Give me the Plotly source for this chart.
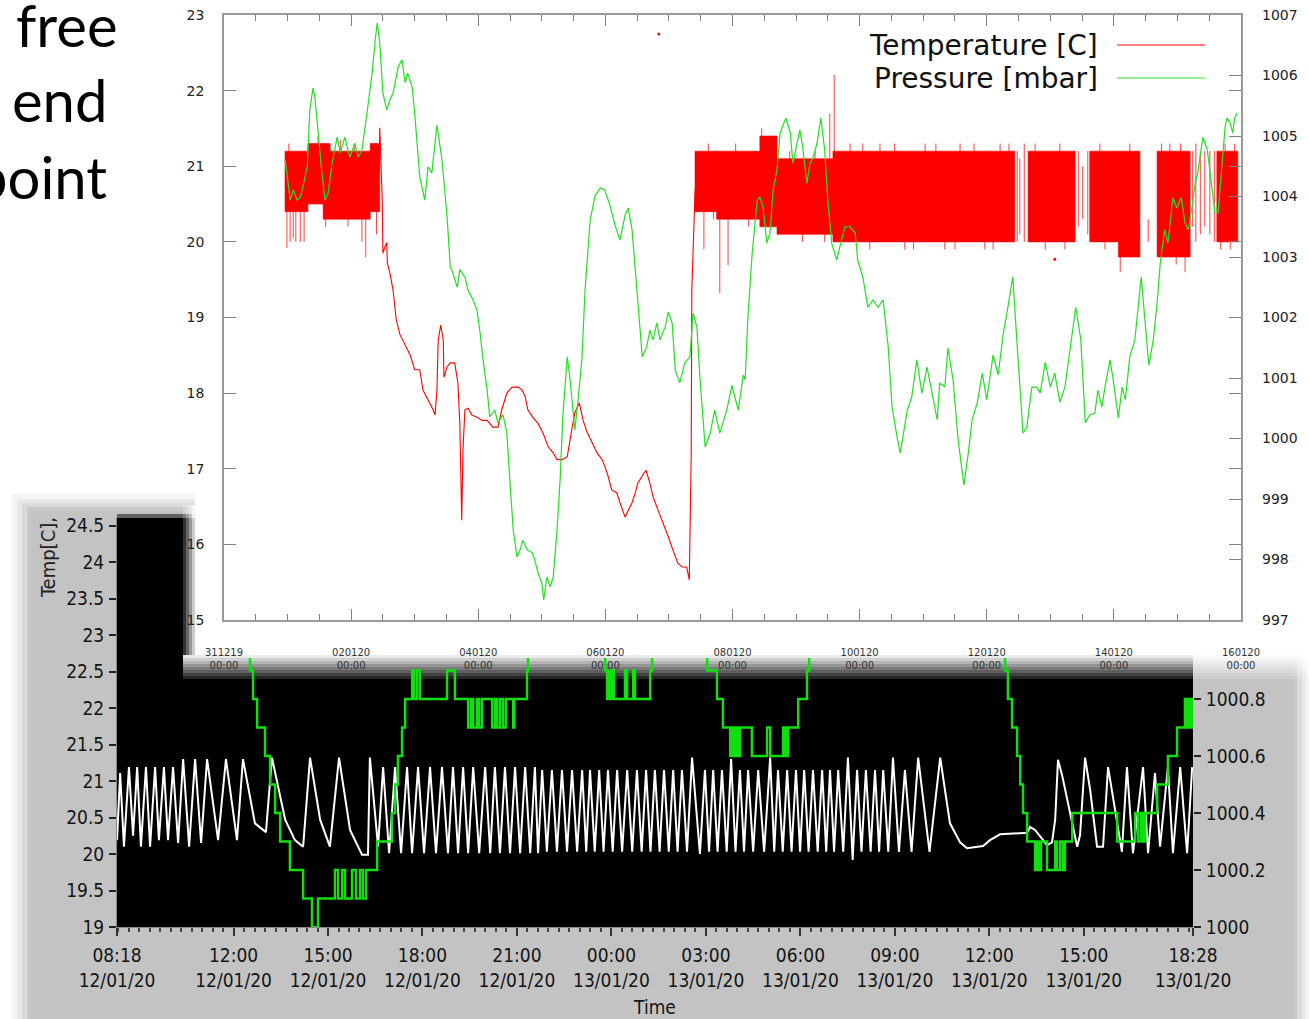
import pandas as pd
import plotly.graph_objects as go

W, H = 1309, 1019

# ---------------- top chart (gnuplot): time in days after 2019-12-31 00:00 ----------------
top_start = pd.Timestamp("2019-12-31 00:00")
top_range_days = [0, 16]

pressure_readings = [  # (day, mbar)
    (0.96, 1004.60), (0.99, 1004.39), (1.04, 1003.94), (1.09, 1004.11), (1.15, 1003.94), (1.20, 1003.99),
    (1.24, 1004.16), (1.31, 1004.49), (1.35, 1005.43), (1.40, 1005.79), (1.43, 1005.64), (1.48, 1005.05),
    (1.54, 1004.39), (1.59, 1003.94), (1.64, 1004.06), (1.70, 1004.55), (1.78, 1004.98), (1.83, 1004.72),
    (1.90, 1004.98), (1.98, 1004.65), (2.06, 1004.88), (2.11, 1004.65), (2.17, 1004.77), (2.25, 1005.38),
    (2.33, 1006.04), (2.38, 1006.59), (2.41, 1006.87), (2.45, 1006.54), (2.50, 1005.71), (2.56, 1005.43),
    (2.61, 1005.60), (2.66, 1005.71), (2.74, 1006.14), (2.80, 1006.26), (2.85, 1005.88), (2.89, 1006.04),
    (2.96, 1005.81), (3.00, 1005.38), (3.08, 1004.32), (3.16, 1003.94), (3.21, 1004.49), (3.27, 1004.39),
    (3.35, 1005.18), (3.43, 1004.60), (3.51, 1003.66), (3.56, 1002.83), (3.60, 1002.74), (3.67, 1002.50),
    (3.71, 1002.79), (3.79, 1002.67), (3.84, 1002.45), (3.92, 1002.29), (3.98, 1002.12), (4.03, 1001.74),
    (4.07, 1001.35), (4.14, 1000.80), (4.18, 1000.36), (4.26, 1000.47), (4.31, 1000.26), (4.39, 1000.39),
    (4.45, 1000.09), (4.50, 999.26), (4.55, 998.49), (4.61, 998.04), (4.66, 998.16), (4.70, 998.32),
    (4.77, 998.16), (4.85, 998.11), (4.89, 997.99), (4.94, 997.78), (5.00, 997.61), (5.03, 997.33),
    (5.08, 997.71), (5.13, 997.55), (5.18, 997.71), (5.24, 998.49), (5.29, 999.36), (5.33, 1000.36),
    (5.40, 1001.35), (5.44, 1001.02), (5.49, 1000.42), (5.52, 1000.14), (5.57, 1000.64), (5.63, 1001.30),
    (5.68, 1002.45), (5.76, 1003.61), (5.84, 1004.02), (5.92, 1004.14), (5.99, 1004.11), (6.07, 1003.86),
    (6.15, 1003.53), (6.23, 1003.28), (6.31, 1003.69), (6.36, 1003.81), (6.42, 1003.45), (6.50, 1002.45),
    (6.58, 1001.35), (6.65, 1001.51), (6.70, 1001.79), (6.75, 1001.63), (6.81, 1001.91), (6.86, 1001.63),
    (6.94, 1001.84), (6.99, 1002.09), (7.05, 1001.91), (7.10, 1001.13), (7.17, 1000.92), (7.25, 1001.25),
    (7.33, 1001.35), (7.38, 1002.07), (7.44, 1001.84), (7.49, 1000.97), (7.57, 999.86), (7.65, 1000.09),
    (7.72, 1000.47), (7.80, 1000.09), (7.91, 1000.47), (7.99, 1000.88), (8.09, 1000.47), (8.17, 1001.05),
    (8.20, 1000.97), (8.24, 1001.96), (8.31, 1003.07), (8.39, 1003.94), (8.43, 1003.99), (8.48, 1003.83),
    (8.54, 1003.23), (8.59, 1003.40), (8.64, 1004.11), (8.70, 1004.44), (8.75, 1005.05), (8.84, 1005.30),
    (8.91, 1005.05), (8.95, 1004.55), (9.01, 1004.88), (9.06, 1005.10), (9.11, 1004.77), (9.17, 1004.22),
    (9.22, 1004.55), (9.27, 1004.65), (9.33, 1004.88), (9.39, 1005.30), (9.45, 1004.77), (9.50, 1003.94),
    (9.56, 1003.23), (9.64, 1002.95), (9.69, 1003.17), (9.77, 1003.50), (9.85, 1003.50), (9.93, 1003.40),
    (9.97, 1002.95), (10.05, 1002.67), (10.13, 1002.17), (10.21, 1002.29), (10.29, 1002.17), (10.37, 1002.29),
    (10.45, 1001.51), (10.51, 1000.52), (10.59, 1000.02), (10.64, 999.76), (10.68, 1000.02), (10.75, 1000.47),
    (10.82, 1000.69), (10.90, 1001.30), (10.98, 1000.75), (11.06, 1001.18), (11.14, 1000.75), (11.22, 1000.31),
    (11.26, 1000.92), (11.34, 1000.85), (11.39, 1001.50), (11.47, 1000.97), (11.55, 999.98), (11.64, 999.23),
    (11.71, 999.76), (11.77, 1000.31), (11.85, 1000.59), (11.93, 1001.08), (12.00, 1000.64), (12.10, 1001.38),
    (12.18, 1001.05), (12.26, 1001.74), (12.32, 1002.09), (12.41, 1002.67), (12.48, 1001.51), (12.57, 1000.09),
    (12.63, 1000.19), (12.71, 1000.85), (12.79, 1000.85), (12.84, 1000.75), (12.92, 1001.26), (13.00, 1000.85),
    (13.07, 1001.08), (13.15, 1000.60), (13.23, 1000.85), (13.31, 1001.51), (13.40, 1002.17), (13.48, 1001.63),
    (13.55, 1000.26), (13.62, 1000.39), (13.70, 1000.42), (13.75, 1000.80), (13.81, 1000.52), (13.86, 1000.85),
    (13.94, 1001.30), (13.99, 1000.97), (14.07, 1000.34), (14.13, 1000.85), (14.18, 1000.64), (14.25, 1001.35),
    (14.33, 1001.63), (14.43, 1002.67), (14.49, 1001.91), (14.55, 1001.21), (14.62, 1001.63), (14.68, 1002.24),
    (14.73, 1002.90), (14.80, 1003.45), (14.85, 1003.23), (14.93, 1003.98), (14.99, 1003.81), (15.06, 1003.98),
    (15.12, 1003.56), (15.17, 1003.45), (15.23, 1003.83), (15.28, 1004.22), (15.32, 1004.39), (15.40, 1004.98),
    (15.47, 1004.77), (15.54, 1004.16), (15.59, 1003.74), (15.64, 1003.73), (15.70, 1004.55), (15.75, 1005.15),
    (15.78, 1005.30), (15.83, 1005.21), (15.87, 1005.05), (15.90, 1005.30), (15.94, 1005.38),
]

temperature_readings = [  # (day, degC) - the smooth part between the noisy bands
    (2.44, 20.90), (2.45, 21.51), (2.49, 20.55), (2.50, 19.85), (2.53, 19.93), (2.56, 19.99), (2.57, 19.72),
    (2.61, 19.59), (2.66, 19.36), (2.71, 18.97), (2.77, 18.77), (2.85, 18.64), (2.93, 18.50), (3.00, 18.31),
    (3.08, 18.31), (3.13, 18.04), (3.19, 17.95), (3.24, 17.87), (3.29, 17.78), (3.32, 17.71), (3.35, 18.04),
    (3.37, 18.70), (3.41, 18.90), (3.45, 18.70), (3.46, 18.21), (3.51, 18.35), (3.56, 18.40), (3.63, 18.40),
    (3.68, 18.13), (3.71, 17.60), (3.74, 16.32), (3.76, 17.25), (3.79, 17.78), (3.84, 17.80), (3.90, 17.71),
    (3.98, 17.68), (4.06, 17.64), (4.14, 17.64), (4.18, 17.60), (4.23, 17.55), (4.31, 17.55), (4.37, 17.78),
    (4.45, 18.00), (4.53, 18.08), (4.63, 18.08), (4.69, 18.04), (4.74, 17.95), (4.78, 17.78), (4.86, 17.68),
    (4.94, 17.60), (5.02, 17.47), (5.10, 17.29), (5.18, 17.21), (5.24, 17.12), (5.32, 17.12), (5.40, 17.16),
    (5.47, 17.51), (5.52, 17.74), (5.59, 17.87), (5.65, 17.64), (5.71, 17.49), (5.79, 17.34), (5.87, 17.21),
    (5.95, 17.12), (6.03, 16.94), (6.10, 16.72), (6.18, 16.68), (6.23, 16.55), (6.31, 16.36), (6.36, 16.45),
    (6.42, 16.55), (6.47, 16.68), (6.51, 16.81), (6.59, 16.92), (6.64, 16.98), (6.70, 16.81), (6.75, 16.63),
    (6.83, 16.45), (6.91, 16.28), (6.99, 16.10), (7.06, 15.93), (7.14, 15.75), (7.21, 15.70), (7.28, 15.70),
    (7.32, 15.53), (7.35, 17.16), (7.36, 19.36), (7.38, 19.93), (7.41, 20.65), (7.46, 21.08),
]

temperature_bands = [  # (start day, end day, low degC, high degC) - densely oscillating periods
    (0.96, 1.32, 20.4, 21.2), (1.32, 1.56, 20.5, 21.3), (1.56, 1.67, 20.3, 21.3), (1.67, 2.30, 20.3, 21.2),
    (2.30, 2.45, 20.4, 21.3), (7.41, 7.75, 20.4, 21.2), (7.75, 8.43, 20.3, 21.2), (8.43, 8.70, 20.2, 21.4),
    (8.70, 9.58, 20.1, 21.1), (9.58, 12.44, 20.0, 21.2), (12.65, 13.39, 20.0, 21.2), (13.62, 14.07, 20.0, 21.2),
    (14.07, 14.41, 19.8, 21.2), (14.68, 15.20, 19.8, 21.2), (15.62, 15.95, 20.0, 21.2),
]

temperature_spikes = [  # (day, low degC, high degC)
    (0.99, 19.92, 20.4), (1.04, 20.0, 20.4), (1.09, 20.05, 20.4), (1.13, 20.0, 20.4), (1.20, 20.0, 20.4),
    (1.26, 20.0, 20.4), (1.48, 21.2, 21.4), (1.83, 21.2, 21.35), (2.17, 20.0, 20.3), (2.23, 19.8, 20.3),
    (1.02, 21.2, 21.3), (1.60, 20.2, 20.3), (1.95, 20.2, 20.3), (2.05, 21.2, 21.3), (2.40, 20.1, 20.4),
    (7.55, 19.9, 20.4), (7.80, 19.32, 20.3), (7.93, 19.69, 20.3), (8.46, 21.4, 21.5), (9.53, 21.1, 21.7),
    (7.62, 21.2, 21.3), (7.70, 20.3, 20.4), (8.05, 21.2, 21.3), (8.25, 20.2, 20.3), (8.90, 21.1, 21.2),
    (9.10, 20.0, 20.1), (9.30, 21.1, 21.2), (9.45, 20.0, 20.1),
    (9.60, 21.1, 22.21), (9.85, 21.2, 21.3), (10.16, 19.9, 20.0), (10.32, 21.2, 21.3), (10.71, 19.9, 20.0),
    (10.05, 21.2, 21.3), (10.55, 21.2, 21.3), (10.85, 19.9, 20.0), (11.20, 21.2, 21.3), (11.50, 19.9, 20.0),
    (11.80, 21.2, 21.3), (12.10, 19.9, 20.0), (12.35, 21.2, 21.3),
    (11.03, 21.2, 21.3), (11.34, 19.9, 20.0), (11.58, 21.2, 21.3), (11.97, 19.9, 20.0), (12.21, 21.2, 21.3),
    (12.48, 20.0, 21.2), (12.52, 20.1, 21.1), (12.59, 20.0, 21.3), (12.76, 21.2, 21.3), (12.92, 19.9, 20.0),
    (13.15, 21.2, 21.3), (13.23, 19.9, 20.0), (13.44, 20.2, 21.2), (13.51, 20.3, 21.0), (13.59, 20.1, 21.2),
    (13.78, 21.2, 21.3), (13.86, 19.9, 20.0), (14.10, 19.6, 19.8), (14.25, 21.2, 21.3), (14.54, 20.0, 20.3),
    (14.88, 21.2, 21.3), (15.12, 19.6, 19.8), (15.24, 20.2, 21.2), (15.29, 20.0, 21.3), (15.36, 20.1, 21.2),
    (15.43, 20.2, 21.2), (15.51, 20.1, 21.2), (15.58, 20.0, 21.2), (15.75, 21.2, 21.3), (15.83, 19.9, 20.0),
    (14.75, 21.2, 21.3), (14.98, 19.7, 19.8), (15.05, 21.2, 21.3), (15.68, 19.9, 20.0), (15.90, 21.2, 21.3),
]

temperature_outliers = [(6.84, 22.75), (13.07, 19.77)]

# ---------------- bottom chart (LabVIEW): time in hours after 2020-01-12 00:00 ----------------
bot_start = pd.Timestamp("2020-01-12 00:00")
bot_range_h = [8.3, 42.4667]
bot_tick_h = [8.3, 12, 15, 18, 21, 24, 27, 30, 33, 36, 39, 42.4667]
bot_tick_text = ["08:18<br>12/01/20", "12:00<br>12/01/20", "15:00<br>12/01/20", "18:00<br>12/01/20",
                 "21:00<br>12/01/20", "00:00<br>13/01/20", "03:00<br>13/01/20", "06:00<br>13/01/20",
                 "09:00<br>13/01/20", "12:00<br>13/01/20", "15:00<br>13/01/20", "18:28<br>13/01/20"]
bot_press_ticks = [1000, 1000.2, 1000.4, 1000.6, 1000.8]

lab_temperature = [  # (hour, degC)
    (8.30, 20.19), (8.40, 21.11), (8.52, 20.10), (8.68, 21.19), (8.81, 20.25), (8.94, 21.19), (9.06, 20.10),
    (9.22, 21.19), (9.35, 20.10), (9.51, 21.19), (9.63, 20.19), (9.79, 21.19), (9.92, 20.19), (10.08, 21.19),
    (10.24, 20.15), (10.40, 21.30), (10.59, 20.10), (10.78, 21.30), (10.97, 20.15), (11.16, 21.30), (11.51, 20.19),
    (11.76, 21.30), (12.11, 20.19), (12.30, 21.30), (12.68, 20.42), (12.84, 20.37), (13.03, 20.30), (13.22, 21.32),
    (13.64, 20.47), (13.95, 20.19), (14.21, 20.10), (14.43, 21.32), (14.75, 20.47), (15.06, 20.10), (15.35, 21.32),
    (15.70, 20.33), (16.08, 19.99), (16.27, 19.99), (16.33, 21.32), (16.59, 20.10),
    (16.75, 21.19), (16.94, 20.01), (17.13, 21.19), (17.32, 20.01), (17.51, 21.19), (17.67, 20.01), (17.86, 21.19),
    (18.05, 20.01), (18.24, 21.19), (18.43, 20.01), (18.62, 21.19), (18.81, 20.01), (18.97, 21.19), (19.13, 20.01),
    (19.29, 21.19), (19.45, 20.01), (19.61, 21.19), (19.80, 20.01), (19.99, 21.19), (20.15, 20.01), (20.30, 21.19),
    (20.46, 20.01), (20.62, 21.19), (20.78, 20.01), (20.94, 21.19), (21.10, 20.01), (21.26, 21.19), (21.42, 20.01),
    (21.57, 21.19), (21.67, 20.01),
    (21.80, 21.15), (21.95, 20.03), (22.11, 21.15), (22.27, 20.03), (22.43, 21.15), (22.59, 20.03), (22.75, 21.15),
    (22.91, 20.03), (23.07, 21.15), (23.20, 20.03), (23.32, 21.15), (23.47, 20.03), (23.61, 21.15), (23.75, 20.03),
    (23.89, 21.15), (24.04, 20.03), (24.18, 21.15), (24.34, 20.03), (24.50, 21.15), (24.66, 20.03), (24.81, 21.15),
    (24.96, 20.03), (25.10, 21.15), (25.24, 20.03), (25.38, 21.15), (25.53, 20.03), (25.67, 21.15), (25.82, 20.03),
    (25.96, 21.15), (26.10, 20.03), (26.24, 21.15), (26.40, 20.03), (26.56, 21.32), (26.81, 20.00), (26.97, 21.15),
    (27.10, 20.03), (27.23, 21.15), (27.37, 20.03), (27.51, 21.15), (27.66, 20.03), (27.80, 21.30), (27.94, 20.03),
    (28.08, 21.15), (28.21, 20.03), (28.34, 21.15), (28.50, 20.03), (28.66, 21.15), (28.85, 20.03), (29.04, 21.32),
    (29.17, 20.03), (29.29, 21.15), (29.44, 20.03), (29.58, 21.15), (29.72, 20.03), (29.86, 21.15), (29.99, 20.03),
    (30.12, 21.15), (30.26, 20.03), (30.40, 21.15), (30.55, 20.03), (30.69, 21.15), (30.82, 20.03), (30.94, 21.15),
    (31.07, 20.03), (31.20, 21.15), (31.36, 20.03), (31.51, 21.32), (31.66, 19.92), (31.80, 21.15), (31.94, 20.03),
    (32.08, 21.15), (32.23, 20.03), (32.37, 21.15), (32.50, 20.03), (32.63, 21.15), (32.79, 20.03), (32.94, 21.32),
    (33.13, 20.03), (33.32, 21.15), (33.53, 20.03), (33.74, 21.32), (34.10, 20.03), (34.44, 21.32),
    (34.59, 20.88), (34.75, 20.42), (35.07, 20.16), (35.29, 20.08), (35.80, 20.11), (36.02, 20.19), (36.34, 20.27),
    (37.20, 20.29), (37.29, 20.37), (37.45, 20.33), (37.71, 20.19), (37.83, 20.12), (37.99, 20.16), (38.09, 20.47),
    (38.18, 21.29), (38.31, 21.08), (38.79, 20.10), (38.88, 20.26), (39.04, 21.32), (39.20, 20.88), (39.42, 20.10),
    (39.61, 20.10), (39.77, 21.19), (40.21, 20.03), (40.37, 21.19), (40.56, 20.01), (40.88, 21.19), (41.04, 20.01),
    (41.26, 21.11), (41.42, 20.10), (41.67, 21.19), (41.83, 20.01), (42.06, 21.19), (42.28, 20.01), (42.44, 21.19),
]

lab_pressure = [  # (hour, mbar), step changes
    (12.46, 1001.0), (12.52, 1000.9), (12.62, 1000.8), (12.75, 1000.7), (13.00, 1000.6), (13.16, 1000.5),
    (13.32, 1000.4), (13.48, 1000.3), (13.79, 1000.2), (14.21, 1000.1), (14.49, 1000.0), (14.68, 1000.1),
    (15.22, 1000.2), (15.32, 1000.1), (15.45, 1000.2), (15.54, 1000.1), (15.76, 1000.2), (15.89, 1000.1),
    (16.02, 1000.2), (16.11, 1000.1), (16.21, 1000.2), (16.56, 1000.3), (17.03, 1000.4), (17.13, 1000.5),
    (17.22, 1000.6), (17.35, 1000.7), (17.45, 1000.8), (17.67, 1000.9), (17.73, 1000.8), (17.83, 1000.9),
    (17.92, 1000.8), (18.78, 1000.9), (19.03, 1000.8), (19.45, 1000.7), (19.54, 1000.8), (19.61, 1000.7),
    (19.73, 1000.8), (19.80, 1000.7), (19.89, 1000.8), (20.21, 1000.7), (20.30, 1000.8), (20.37, 1000.7),
    (20.46, 1000.8), (20.56, 1000.7), (20.65, 1000.8), (20.88, 1000.7), (20.92, 1000.8), (21.32, 1000.9),
    (21.35, 1001.0),
    (23.80, 1000.9), (23.86, 1000.8), (23.92, 1000.9), (23.96, 1000.8), (24.02, 1000.9), (24.08, 1000.8),
    (24.43, 1000.9), (24.50, 1000.8), (24.69, 1000.9), (24.75, 1000.8), (25.23, 1000.9), (25.29, 1001.0),
    (27.04, 1000.9), (27.35, 1000.8), (27.54, 1000.7), (27.77, 1000.6), (27.84, 1000.7), (27.90, 1000.6),
    (27.96, 1000.7), (28.02, 1000.6), (28.08, 1000.7), (28.46, 1000.6), (28.94, 1000.7), (29.04, 1000.6),
    (29.45, 1000.7), (29.51, 1000.6), (29.56, 1000.7), (29.58, 1000.6), (29.61, 1000.7), (29.93, 1000.8),
    (30.21, 1000.9), (30.28, 1001.0),
    (36.50, 1000.9), (36.59, 1000.8), (36.72, 1000.7), (36.88, 1000.6), (36.98, 1000.5), (37.07, 1000.4),
    (37.20, 1000.3), (37.45, 1000.2), (37.52, 1000.3), (37.58, 1000.2), (37.64, 1000.3), (37.83, 1000.2),
    (38.09, 1000.3), (38.15, 1000.2), (38.25, 1000.3), (38.34, 1000.2), (38.40, 1000.3), (38.63, 1000.4),
    (40.06, 1000.3), (40.63, 1000.4), (40.73, 1000.3), (40.82, 1000.4), (40.88, 1000.3), (40.95, 1000.4),
    (41.33, 1000.5), (41.67, 1000.6), (41.96, 1000.7), (42.21, 1000.8), (42.27, 1000.7), (42.30, 1000.8),
    (42.36, 1000.7), (42.40, 1000.8), (42.44, 1000.7), (42.47, 1000.7),
]


# ---------------- helpers ----------------
def tday(d):
    return top_start + pd.Timedelta(days=d)


def thour(h):
    return bot_start + pd.Timedelta(hours=h)


def rect(x0, y0, x1, y1, color, opacity=1.0, layer="below"):
    return dict(type="rect", xref="paper", yref="paper", x0=x0 / W, x1=x1 / W, y0=1 - y1 / H, y1=1 - y0 / H,
                fillcolor=color, opacity=opacity, line=dict(width=0), layer=layer)


fig = go.Figure()

# ---- top chart traces ----
bx, by = [], []
for s, e, lo, hi in temperature_bands:
    bx += [tday(s), tday(e), tday(e), tday(s), tday(s), None]
    by += [lo, lo, hi, hi, lo, None]
fig.add_trace(go.Scatter(x=bx, y=by, mode="lines", fill="toself", fillcolor="#ff0000",
                         line=dict(color="#ff0000", width=0.6), xaxis="x", yaxis="y", hoverinfo="skip"))

sx, sy = [], []
for d, lo, hi in temperature_spikes:
    sx += [tday(d), tday(d), None]
    sy += [lo, hi, None]
fig.add_trace(go.Scatter(x=sx, y=sy, mode="lines", line=dict(color="rgba(255,0,0,0.75)", width=1),
                         xaxis="x", yaxis="y", hoverinfo="skip"))

fig.add_trace(go.Scatter(x=[tday(d) for d, _ in temperature_readings], y=[v for _, v in temperature_readings],
                         mode="lines", line=dict(color="#ff0000", width=1.1), xaxis="x", yaxis="y"))
fig.add_trace(go.Scatter(x=[tday(d) for d, _ in temperature_outliers], y=[v for _, v in temperature_outliers],
                         mode="markers", marker=dict(color="#ff0000", size=3), xaxis="x", yaxis="y"))

fig.add_trace(go.Scatter(x=[tday(d) for d, _ in pressure_readings], y=[v for _, v in pressure_readings],
                         mode="lines", line=dict(color="#22e022", width=1.2), xaxis="x", yaxis="y2"))

# ---- bottom chart traces ----
fig.add_trace(go.Scatter(x=[], y=[], xaxis="x2", yaxis="y3", showlegend=False))
fig.add_trace(go.Scatter(x=[], y=[], xaxis="x2", yaxis="y4", showlegend=False))
fig.add_trace(go.Scatter(x=[thour(h) for h, _ in lab_temperature], y=[v for _, v in lab_temperature],
                         mode="lines", line=dict(color="#ffffff", width=2), xaxis="x2", yaxis="y5"))
fig.add_trace(go.Scatter(x=[thour(h) for h, _ in lab_pressure], y=[v for _, v in lab_pressure],
                         mode="lines", line=dict(color="#10e010", width=2.4, shape="hv"), xaxis="x2", yaxis="y6"))

# ---------------- decoration shapes ----------------
shapes = []
for (x0, y0, x1, a) in [(12, 494, 1309, 0.04), (17, 499, 1306, 0.05), (22, 503, 1302, 0.06), (27, 507, 1297, 0.08)]:
    shapes.append(rect(x0, y0, x1, 1019, "#000000", a))
shapes.append(rect(31, 511, 1293, 1019, "#c3c3c3"))
shapes.append(rect(117, 514, 192, 518, "#000000", 0.5))
shapes.append(rect(117, 518, 1193, 927, "#000000"))
shapes.append(rect(195, 0, 1309, 655, "#ffffff"))
for k, x in enumerate(range(183, 195, 3)):
    shapes.append(rect(x, 505, x + 3, 655, "#ffffff", 0.2 + 0.2 * k))
for k in range(8):
    y0 = 655 + 3 * k
    shapes.append(rect(183, y0, 1309, y0 + 3, "#ffffff", 0.92 - 0.11 * k))
# gnuplot key samples
shapes.append(dict(type="line", xref="paper", yref="paper", x0=1117 / W, x1=1205 / W, y0=1 - 45 / H, y1=1 - 45 / H,
                   line=dict(color="#ff0000", width=1), layer="above"))
shapes.append(dict(type="line", xref="paper", yref="paper", x0=1117 / W, x1=1205 / W, y0=1 - 78 / H, y1=1 - 78 / H,
                   line=dict(color="#22e022", width=1), layer="above"))

GN = "DejaVu Sans"
LV = "DejaVu Sans Condensed, Liberation Sans Narrow, DejaVu Sans"


def ann(text, x, y, size, family, xanchor="center", angle=0, color="#000000"):
    return dict(text=text, x=x / W, y=1 - y / H, xref="paper", yref="paper", showarrow=False, xanchor=xanchor,
                yanchor="middle", textangle=angle, font=dict(size=size, family=family, color=color))


annotations = [
    ann("free", 120, 24, 58, "Lato", "right"),
    ann("end", 109, 99, 58, "Lato", "right"),
    ann("point", 109, 176, 58, "Lato", "right"),
    ann("Temperature [C]", 1100, 45, 28, GN, "right", color="#111111"),
    ann("Pressure [mbar]", 1100, 78, 28, GN, "right", color="#111111"),
    ann("Temp[C],", 48, 558, 20, LV, "center", -90, "#222222"),
]

top_tick_vals = [tday(d) for d in range(0, 17, 2)]

fig.update_layout(
    template="none",
    width=W, height=H, margin=dict(l=0, r=0, t=0, b=0, pad=0), autosize=False,
    paper_bgcolor="#ffffff", plot_bgcolor="rgba(0,0,0,0)", showlegend=False,
    shapes=shapes, annotations=annotations,
    xaxis=dict(domain=[224 / W, 1241 / W], anchor="y", type="date", range=[tday(0), tday(16)], automargin=False,
               tickmode="array", tickvals=top_tick_vals, tickformat="%d%m%y<br>%H:%M",
               ticks="inside", ticklen=11, tickcolor="#808080", tickwidth=1,
               minor=dict(dtick=43200000, tick0=tday(0), ticks="inside", ticklen=6, tickcolor="#808080",
                          showgrid=False),
               showline=True, linecolor="#9a9a9a", linewidth=1.5, mirror="ticks", showgrid=False,
               zeroline=False, tickfont=dict(family=GN, size=10, color="#333333"), ticklabelstandoff=22),
    yaxis=dict(domain=[1 - 620 / H, 1 - 15 / H], anchor="x", range=[15, 23], dtick=1, automargin=False,
               ticks="inside", ticklen=12, tickcolor="#808080", showline=True, linecolor="#9a9a9a",
               linewidth=1.5, mirror="ticks", showgrid=False, zeroline=False,
               tickfont=dict(family=GN, size=14, color="#222222"), ticklabelstandoff=15),
    yaxis2=dict(overlaying="y", anchor="x", side="right", range=[997, 1007], dtick=1, ticks="inside",
                ticklen=12, tickcolor="#808080", showline=False, showgrid=False, zeroline=False, automargin=False,
                tickfont=dict(family=GN, size=14, color="#222222"), ticklabelstandoff=20),
    xaxis2=dict(domain=[117 / W, 1193 / W], anchor="y3", type="date", automargin=False,
                range=[thour(bot_range_h[0]), thour(bot_range_h[1])],
                tickmode="array", tickvals=[thour(h) for h in bot_tick_h], ticktext=bot_tick_text,
                ticks="outside", ticklen=8, tickcolor="#333333", tickwidth=1.5,
                minor=dict(dtick=1200000, tick0=thour(0), ticks="outside", ticklen=4, tickcolor="#444444",
                           tickwidth=1.5, showgrid=False),
                showline=True, linecolor="#8a8a8a", linewidth=1, showgrid=False, zeroline=False,
                tickfont=dict(family=LV, size=19, color="#141414"), ticklabelstandoff=3,
                title=dict(text="Time", font=dict(family=LV, size=19, color="#141414"), standoff=11)),
    yaxis3=dict(domain=[1 - 927 / H, 1 - 518 / H], anchor="x2", range=[19, 19 + 409 / 73], dtick=0.5,
                automargin=False, ticks="outside", ticklen=7, tickcolor="#222222", tickwidth=1.5, showline=True,
                linecolor="#8a8a8a", showgrid=False, zeroline=False,
                tickfont=dict(family=LV, size=19, color="#141414"), ticklabelstandoff=1),
    yaxis4=dict(overlaying="y3", anchor="x2", side="right", range=[1000, 1000 + 409 / 285], tickmode="array",
                tickvals=bot_press_ticks, ticktext=[f"{v:g}" for v in bot_press_ticks], ticks="outside",
                ticklen=7, tickcolor="#222222", tickwidth=1.5, showgrid=False, zeroline=False, showline=False,
                automargin=False, tickfont=dict(family=LV, size=19, color="#141414"), ticklabelstandoff=1),
    yaxis5=dict(domain=[1 - 927 / H, 1 - 658 / H], anchor="x2", range=[19, 19 + 269 / 73], visible=False,
                automargin=False),
    yaxis6=dict(overlaying="y5", anchor="x2", range=[1000, 1000 + 269 / 285], visible=False, automargin=False),
)

fig.write_html("out.html", config={"displayModeBar": False},
               post_script="document.body.style.margin='0px';document.body.style.overflow='hidden';")
